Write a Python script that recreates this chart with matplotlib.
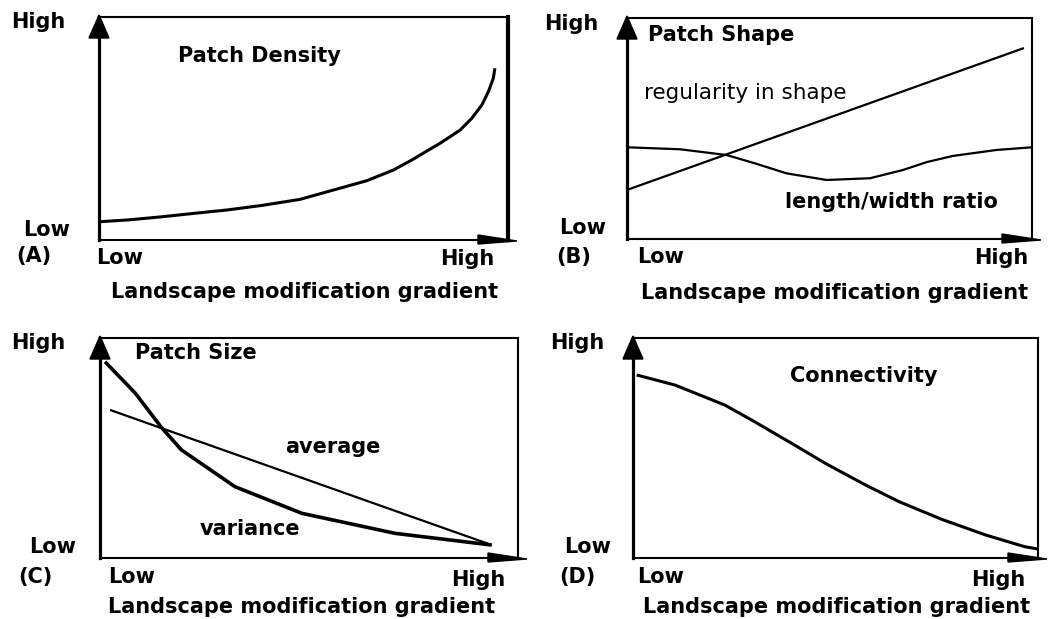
import numpy as np
import matplotlib.pyplot as plt
from matplotlib.patches import Polygon
from matplotlib.transforms import ScaledTranslation

# curves in axis-fraction units (0 = low, 1 = high)
density_x = [0.002, 0.071, 0.153, 0.235, 0.315, 0.398, 0.491, 0.573, 0.655, 0.720,
             0.768, 0.809, 0.834, 0.883, 0.911, 0.936, 0.952, 0.964, 0.968]
density_y = [0.082, 0.090, 0.104, 0.120, 0.135, 0.155, 0.182, 0.224, 0.266, 0.314,
             0.362, 0.407, 0.434, 0.493, 0.545, 0.605, 0.665, 0.725, 0.770]

regularity_x = [0.0, 0.98]
regularity_y = [0.222, 0.864]
lw_ratio_x = [0.0, 0.131, 0.246, 0.320, 0.394, 0.493, 0.600, 0.681, 0.740, 0.805, 0.913, 1.0]
lw_ratio_y = [0.415, 0.406, 0.380, 0.340, 0.297, 0.267, 0.275, 0.312, 0.348, 0.376, 0.403, 0.415]

average_x = [0.024, 0.937]
average_y = [0.673, 0.059]
variance_x = [0.012, 0.084, 0.148, 0.195, 0.323, 0.483, 0.706, 0.937]
variance_y = [0.892, 0.750, 0.591, 0.491, 0.324, 0.203, 0.112, 0.059]

connect_x = [0.009, 0.104, 0.227, 0.293, 0.392, 0.475, 0.574, 0.657, 0.762, 0.870, 0.968, 1.0]
connect_y = [0.832, 0.786, 0.695, 0.627, 0.521, 0.430, 0.332, 0.256, 0.176, 0.105, 0.051, 0.041]

W, H = 1053, 619
fig = plt.figure(figsize=(W / 100, H / 100), dpi=100)
plt.rcParams['font.family'] = ['DejaVu Sans']

FS = 15


def box(l, t, r, b):
    # pixel box -> figure fraction rect
    return [l / W, 1 - b / H, (r - l) / W, (b - t) / H]


def ftext(x, y, s, size=FS, ha='center', weight='bold'):
    fig.text(x / W, 1 - y / H, s, fontsize=size, ha=ha, va='center', fontweight=weight)


def tri(ax, corner, verts):
    # triangle with vertices given in pixels relative to an axes corner
    tr = fig.dpi_scale_trans + ScaledTranslation(corner[0], corner[1], ax.transAxes)
    v = np.array(verts, dtype=float) / 100.0
    v[:, 1] *= -1
    ax.add_patch(Polygon(v, closed=True, color='black', transform=tr, clip_on=False))


def panel(rect, right_lw=1.5):
    ax = fig.add_axes(rect)
    ax.set_xlim(0, 1)
    ax.set_ylim(0, 1)
    ax.set_xticks([])
    ax.set_yticks([])
    for s in ['top', 'bottom']:
        ax.spines[s].set_linewidth(1.5)
    ax.spines['left'].set_linewidth(2.3)
    ax.spines['right'].set_linewidth(right_lw)
    # arrow heads
    tri(ax, (0, 1), [(0, -2), (-10, 21), (10, 21)])
    tri(ax, (1, 0), [(9, 1), (-30, -5), (-30, 4)])
    return ax


def curve(ax, x, y, lw):
    ax.plot(x, y, color='black', lw=lw, solid_joinstyle='round', solid_capstyle='butt')


# (A) patch density
axA = panel(box(99, 17, 508, 240), right_lw=3)
curve(axA, density_x, density_y, 2.2)
ftext(38, 22, 'High')
ftext(47, 230, 'Low')
ftext(34, 256, '(A)')
ftext(120, 258, 'Low')
ftext(467, 259, 'High')
ftext(305, 292, 'Landscape modification gradient')
ftext(178, 56, 'Patch Density', ha='left')

# (B) patch shape
axB = panel(box(627, 18, 1032, 239))
curve(axB, regularity_x, regularity_y, 1.6)
curve(axB, lw_ratio_x, lw_ratio_y, 1.6)
ftext(571, 24, 'High')
ftext(583, 228, 'Low')
ftext(574, 257, '(B)')
ftext(661, 257, 'Low')
ftext(1001, 258, 'High')
ftext(835, 293, 'Landscape modification gradient')
ftext(648, 35, 'Patch Shape', ha='left')
ftext(644, 93, 'regularity in shape', size=15.5, ha='left', weight='normal')
ftext(785, 202, 'length/width ratio', ha='left')

# (C) patch size
axC = panel(box(100, 338, 518, 558))
curve(axC, average_x, average_y, 1.6)
curve(axC, variance_x, variance_y, 2.6)
ftext(38, 343, 'High')
ftext(53, 547, 'Low')
ftext(35, 577, '(C)')
ftext(132, 577, 'Low')
ftext(478, 580, 'High')
ftext(302, 607, 'Landscape modification gradient')
ftext(135, 353, 'Patch Size', ha='left')
ftext(285, 447, 'average', ha='left')
ftext(200, 529, 'variance', ha='left')

# (D) connectivity
axD = panel(box(633, 338, 1038, 558))
curve(axD, connect_x, connect_y, 2.2)
ftext(577, 343, 'High')
ftext(588, 547, 'Low')
ftext(577, 577, '(D)')
ftext(661, 577, 'Low')
ftext(998, 580, 'High')
ftext(837, 607, 'Landscape modification gradient')
ftext(790, 376, 'Connectivity', ha='left')

fig.savefig('out.png', dpi=100)
